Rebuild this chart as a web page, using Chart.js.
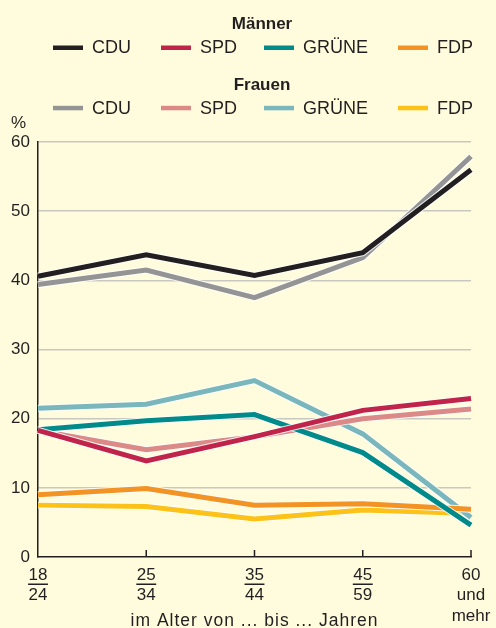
<!DOCTYPE html>
<html>
<head>
<meta charset="utf-8">
<script src="https://cdn.jsdelivr.net/npm/chart.js@4"></script>
<style>
  html, body { margin: 0; padding: 0; background: #fefcdc; }
  canvas { display: block; }
</style>
</head>
<body>
<canvas id="myChart" width="496" height="628"></canvas>
<script>
// Altersgruppen
const categories = ['18-24', '25-34', '35-44', '45-59', '60+'];
const tickLabels = [['18', '24'], ['25', '34'], ['35', '44'], ['45', '59'], ['60', 'und', 'mehr']];
const parties = ['CDU', 'SPD', 'GRÜNE', 'FDP'];
const xTitle = 'im Alter von ... bis ... Jahren';

// Männer
const menCDU = [40.6, 43.7, 40.7, 44.0, 56.0];
const menSPD = [18.3, 13.9, 17.4, 21.2, 22.9];
const menGRUENE = [18.4, 19.7, 20.6, 15.1, 4.6];
const menFDP = [9.0, 9.9, 7.5, 7.7, 6.9];

// Frauen
const womenCDU = [39.4, 41.5, 37.5, 43.3, 57.9];
const womenSPD = [18.3, 15.5, 17.4, 20.0, 21.4];
const womenGRUENE = [21.5, 22.1, 25.5, 17.8, 5.7];
const womenFDP = [7.5, 7.3, 5.5, 6.8, 6.3];

const yTicks = [0, 10, 20, 30, 40, 50, 60];

const menColors = ['#231f20', '#c0244a', '#008b8a', '#f39324'];
const womenColors = ['#949494', '#dc8a87', '#79b7bd', '#fcc218'];
const ink = '#231f20';
const font = '"Liberation Sans", Arial, sans-serif';

function line(label, values, color) {
    return {
        label: label,
        data: values,
        borderColor: color,
        backgroundColor: color,
        borderWidth: 5,
        borderJoinStyle: 'miter',
        borderCapStyle: 'butt',
        pointRadius: 0,
        tension: 0,
        fill: false
    };
}

const menData = [menCDU, menSPD, menGRUENE, menFDP];
const womenData = [womenCDU, womenSPD, womenGRUENE, womenFDP];

// men first -> drawn on top
const datasets = [];
parties.forEach((p, i) => datasets.push(line('Männer ' + p, menData[i], menColors[i])));
parties.forEach((p, i) => datasets.push(line('Frauen ' + p, womenData[i], womenColors[i])));

// light outline under every line
const haloPlugin = {
    id: 'halo',
    beforeDatasetDraw(chart, args) {
        const pts = args.meta.data;
        const ctx = chart.ctx;
        ctx.save();
        ctx.beginPath();
        pts.forEach((pt, i) => i ? ctx.lineTo(pt.x, pt.y) : ctx.moveTo(pt.x, pt.y));
        ctx.strokeStyle = 'rgba(255,255,255,0.85)';
        ctx.lineWidth = 7;
        ctx.lineJoin = 'miter';
        ctx.stroke();
        ctx.restore();
    }
};

// legend, x tick marks and labels
const decoPlugin = {
    id: 'deco',
    afterDraw(chart) {
        const ctx = chart.ctx;
        const x = chart.scales.x;
        ctx.save();
        ctx.fillStyle = ink;
        ctx.strokeStyle = ink;

        // tick marks pointing into the plot
        ctx.lineWidth = 1.5;
        categories.forEach((c, i) => {
            if (i === 0) return;
            const px = x.getPixelForValue(i);
            ctx.beginPath();
            ctx.moveTo(px, x.top - 7);
            ctx.lineTo(px, x.top);
            ctx.stroke();
        });

        // tick labels
        ctx.font = '17px ' + font;
        ctx.textAlign = 'center';
        ctx.textBaseline = 'alphabetic';
        tickLabels.forEach((lab, i) => {
            const px = x.getPixelForValue(i);
            lab.forEach((t, j) => ctx.fillText(t, px, x.top + 22.5 + j * 20.5));
            if (lab.length === 2) {
                const w = ctx.measureText(lab[0]).width;
                ctx.fillRect(px - w / 2 - 0.5, x.top + 26.5, w + 1, 1.5);
            }
        });

        // axis title
        ctx.font = '17.5px ' + font;
        ctx.letterSpacing = '1px';
        ctx.fillText(xTitle, (chart.chartArea.left + chart.chartArea.right) / 2, 625.5);
        ctx.letterSpacing = '0px';

        // legend
        const legendX = [53, 161, 264, 398];
        ctx.textAlign = 'center';
        ctx.font = 'bold 17px ' + font;
        ctx.fillText('Männer', 262, 28.5);
        ctx.fillText('Frauen', 262, 89.5);
        ctx.textAlign = 'left';
        ctx.font = '18px ' + font;
        parties.forEach((p, i) => {
            ctx.fillStyle = menColors[i];
            ctx.fillRect(legendX[i], 45.5, 30, 4.5);
            ctx.fillStyle = womenColors[i];
            ctx.fillRect(legendX[i], 105.8, 30, 4.5);
            ctx.fillStyle = ink;
            ctx.fillText(p, legendX[i] + 39, 53.3);
            ctx.fillText(p, legendX[i] + 39, 113.5);
        });
        ctx.font = '17px ' + font;
        ctx.fillText('%', 11, 127.5);
        ctx.restore();
    }
};

const config = {
    type: 'line',
    data: { labels: categories, datasets: datasets },
    options: {
        responsive: false,
        animation: false,
        layout: { padding: { top: 142, right: 25, left: 0, bottom: 0 } },
        plugins: {
            legend: { display: false },
            tooltip: { enabled: false }
        },
        scales: {
            x: {
                offset: false,
                grid: { display: false },
                border: { display: true, color: ink, width: 1.5 },
                ticks: { display: false },
                afterFit(scale) { scale.height = 71; }
            },
            y: {
                min: 0,
                max: 60,
                afterBuildTicks(scale) { scale.ticks = yTicks.map(v => ({ value: v })); },
                grid: {
                    color: (c) => c.tick && c.tick.value === 0 ? 'rgba(0,0,0,0)' : '#c9c8c0',
                    lineWidth: 1.5,
                    drawTicks: false
                },
                border: { display: true, color: ink, width: 1.5 },
                ticks: {
                    color: ink,
                    padding: 8,
                    font: { family: font, size: 17 }
                },
                afterFit(scale) { scale.width = 38; }
            }
        }
    },
    plugins: [haloPlugin, decoPlugin]
};

new Chart(document.getElementById('myChart').getContext('2d'), config);
</script>
</body>
</html>
